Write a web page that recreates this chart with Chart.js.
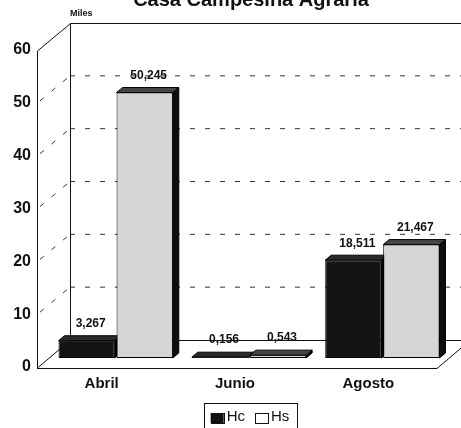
<!DOCTYPE html>
<html>
<head>
<meta charset="utf-8">
<script src="https://cdn.jsdelivr.net/npm/chart.js@4/dist/chart.umd.min.js"></script>
<style>
  html, body { margin: 0; padding: 0; background: #ffffff; }
  #wrap { width: 461px; height: 428px; position: relative; }
</style>
</head>
<body>
<div id="wrap"><canvas id="chart"></canvas></div>
<script>
// Monthly values (thousands)
const categories = ['Abril', 'Junio', 'Agosto'];
const hcValues = [3.267, 0.156, 18.511];
const hsValues = [50.245, 0.543, 21.467];
const yTicks = [0, 10, 20, 30, 40, 50, 60];
const seriesNames = ['Hc', 'Hs'];

const titleText = 'Casa Campesina Agraria';
const unitText = 'Miles';

// Pseudo-3D geometry: offsets of the front edge and back wall from the bar plane
const FRONT = { dx: -12, dy: 10 };
const BACK = { dx: 21, dy: -18 };
const DEPTH = { dx: 6, dy: -5 };
const FONT = '"Liberation Sans", Arial, Helvetica, sans-serif';

function fmt(v) {
  return v.toFixed(3).replace('.', ',');
}

function poly(ctx, pts, fill, stroke) {
  ctx.beginPath();
  ctx.moveTo(pts[0][0], pts[0][1]);
  for (let i = 1; i < pts.length; i++) ctx.lineTo(pts[i][0], pts[i][1]);
  ctx.closePath();
  if (fill) { ctx.fillStyle = fill; ctx.fill(); }
  if (stroke) { ctx.strokeStyle = stroke; ctx.lineWidth = 1; ctx.stroke(); }
}

const boxPlugin = {
  id: 'box3d',
  beforeDatasetsDraw(chart) {
    const ctx = chart.ctx;
    const area = chart.chartArea;
    const ys = chart.scales.y;
    const top = yTicks[yTicks.length - 1];
    const fx = area.left + FRONT.dx, bx = area.left + BACK.dx;
    const fxr = area.right + FRONT.dx, bxr = area.right + BACK.dx + 40;
    const y0 = ys.getPixelForValue(0), yT = ys.getPixelForValue(top);

    ctx.save();
    ctx.strokeStyle = '#111';
    ctx.lineWidth = 1;

    // dashed grid on back wall and left wall
    ctx.setLineDash([5, 10]);
    ctx.strokeStyle = '#333';
    yTicks.forEach(v => {
      if (v === 0 || v === top) return;
      const y = ys.getPixelForValue(v);
      ctx.beginPath();
      ctx.moveTo(bx, y + BACK.dy);
      ctx.lineTo(bxr, y + BACK.dy);
      ctx.stroke();
      ctx.beginPath();
      ctx.moveTo(fx + 3, y + FRONT.dy - 3);
      ctx.lineTo(bx, y + BACK.dy);
      ctx.stroke();
    });
    ctx.setLineDash([]);
    ctx.strokeStyle = '#111';

    ctx.beginPath();
    // back wall
    ctx.moveTo(bx + 0.5, y0 + BACK.dy);
    ctx.lineTo(bx + 0.5, yT + BACK.dy + 0.5);
    ctx.lineTo(bxr, yT + BACK.dy + 0.5);
    // floor back edge
    ctx.moveTo(bx, y0 + BACK.dy + 0.5);
    ctx.lineTo(bxr, y0 + BACK.dy + 0.5);
    // left front edge
    ctx.moveTo(fx + 0.5, yT + FRONT.dy);
    ctx.lineTo(fx + 0.5, y0 + FRONT.dy);
    ctx.moveTo(fx + 0.5, yT + FRONT.dy);
    ctx.lineTo(bx + 0.5, yT + BACK.dy + 0.5);
    ctx.moveTo(fx + 0.5, y0 + FRONT.dy);
    ctx.lineTo(bx + 0.5, y0 + BACK.dy);
    // floor front edge
    ctx.moveTo(fx, y0 + FRONT.dy + 0.5);
    ctx.lineTo(fxr, y0 + FRONT.dy + 0.5);
    ctx.lineTo(area.right + BACK.dx, y0 + BACK.dy + 0.5);
    ctx.stroke();

    // depth faces of the bars (fronts are drawn by the library on top)
    chart.data.datasets.forEach((ds, di) => {
      const meta = chart.getDatasetMeta(di);
      meta.data.forEach(bar => {
        const p = bar.getProps(['x', 'y', 'base', 'width'], true);
        const l = p.x - p.width / 2, r = p.x + p.width / 2;
        poly(ctx, [[r, p.y], [r + DEPTH.dx, p.y + DEPTH.dy], [r + DEPTH.dx, p.base + DEPTH.dy], [r, p.base]], ds.sideColor, '#000');
        poly(ctx, [[l, p.y], [l + DEPTH.dx, p.y + DEPTH.dy], [r + DEPTH.dx, p.y + DEPTH.dy], [r, p.y]], ds.topColor, '#000');
      });
    });
    ctx.restore();
  },
  afterDraw(chart) {
    const ctx = chart.ctx;
    const area = chart.chartArea;
    const ys = chart.scales.y, xs = chart.scales.x;
    const fx = area.left + FRONT.dx;
    ctx.save();
    ctx.fillStyle = '#111';

    // title (partly above the canvas edge)
    ctx.font = 'bold 20px ' + FONT;
    ctx.textAlign = 'center';
    ctx.textBaseline = 'alphabetic';
    ctx.fillText(titleText, 251, 6);

    // unit label
    ctx.font = 'bold 9px ' + FONT;
    ctx.textAlign = 'left';
    ctx.fillText(unitText, 70, 16);

    // y tick labels on the front edge
    ctx.font = 'bold 16px ' + FONT;
    ctx.textAlign = 'right';
    ctx.textBaseline = 'middle';
    yTicks.forEach(v => {
      ctx.fillText(String(v), fx - 6, ys.getPixelForValue(v) + FRONT.dy - 1);
    });

    // category labels
    ctx.font = 'bold 15px ' + FONT;
    ctx.textAlign = 'center';
    ctx.textBaseline = 'middle';
    categories.forEach((c, i) => {
      ctx.fillText(c, xs.getPixelForValue(i) + FRONT.dx - 2, 384);
    });

    // value labels
    ctx.font = 'bold 12px ' + FONT;
    chart.data.datasets.forEach((ds, di) => {
      const meta = chart.getDatasetMeta(di);
      meta.data.forEach((bar, i) => {
        const p = bar.getProps(['x', 'y'], true);
        ctx.fillText(fmt(ds.data[i]), p.x + 4, p.y - 17);
      });
    });

    // legend
    ctx.font = '15px ' + FONT;
    ctx.textBaseline = 'middle';
    ctx.textAlign = 'left';
    const sw = 13, sh = 10, gap = 3, itemGap = 10;
    const items = chart.data.datasets.map(ds => ({ label: ds.label, legendFill: ds.legendFill }));
    let total = 0;
    items.forEach((it, k) => { it.w = sw + gap + ctx.measureText(it.label).width; total += it.w + (k ? itemGap : 0); });
    const cx = 250, ly = 417;
    let x = cx - total / 2;
    ctx.strokeStyle = '#111';
    ctx.lineWidth = 1;
    ctx.strokeRect(Math.round(x - 7) + 0.5, 403.5, Math.round(total + 14), 30);
    items.forEach(it => {
      ctx.fillStyle = it.legendFill;
      ctx.fillRect(x, ly - sh / 2 + 1, sw, sh);
      ctx.strokeRect(Math.round(x) + 0.5, Math.round(ly - sh / 2 + 1) + 0.5, sw, sh);
      ctx.fillStyle = '#111';
      ctx.fillText(it.label, x + sw + gap, ly);
      x += it.w + itemGap;
    });
    ctx.restore();
  }
};

new Chart(document.getElementById('chart'), {
  type: 'bar',
  data: {
    labels: categories,
    datasets: [
      {
        label: seriesNames[0],
        data: hcValues,
        backgroundColor: '#141414',
        borderColor: '#000',
        borderWidth: 1,
        borderSkipped: false,
        sideColor: '#000',
        topColor: '#2a2a2a',
        legendFill: '#111'
      },
      {
        label: seriesNames[1],
        data: hsValues,
        backgroundColor: '#d6d6d6',
        borderColor: '#000',
        borderWidth: 1,
        borderSkipped: false,
        sideColor: '#0e0e0e',
        topColor: '#464646',
        legendFill: '#ffffff'
      }
    ]
  },
  options: {
    responsive: true,
    maintainAspectRatio: false,
    animation: false,
    layout: { padding: { left: 49, right: 12, top: 41, bottom: 70 } },
    datasets: { bar: { categoryPercentage: 0.87, barPercentage: 0.97 } },
    scales: {
      x: { display: false },
      y: { display: false, min: yTicks[0], max: yTicks[yTicks.length - 1] }
    },
    plugins: {
      legend: { display: false },
      tooltip: { enabled: false }
    }
  },
  plugins: [boxPlugin]
});
</script>
</body>
</html>
